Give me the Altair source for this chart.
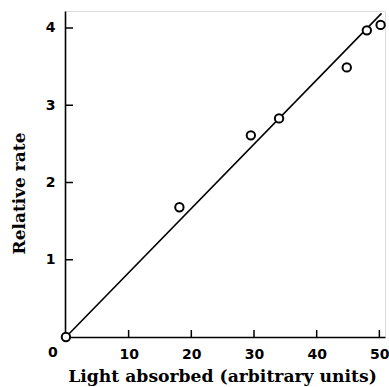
import altair as alt
import pandas as pd

# data
light = [0.0, 18.1, 29.5, 34.0, 44.8, 48.0, 50.2]
rate = [0.0, 1.68, 2.61, 2.83, 3.49, 3.97, 4.04]
fit_x = [0.0, 50.35]
fit_y = [0.0, 4.19]
x_ticks = [10, 20, 30, 40, 50]
y_ticks = [1, 2, 3, 4]

X_DOM = [-0.15, 50.9]
Y_DOM = [0, 4.22]

pts = pd.DataFrame({"x": light, "y": rate})
fit = pd.DataFrame({"x": fit_x, "y": fit_y})
xt = pd.DataFrame({"v": x_ticks})
yt = pd.DataFrame({"v": y_ticks})
zero = pd.DataFrame({"x": [0], "t": ["0"]})

LABEL_FONT = "DejaVu Sans"
TITLE_FONT = "DejaVu Serif"

xscale = alt.Scale(domain=X_DOM, nice=False, zero=False)
yscale = alt.Scale(domain=Y_DOM, nice=False, zero=False)

xaxis = alt.Axis(
    values=x_ticks, format="d", ticks=False, grid=False, domainColor="black", domainWidth=1.6,
    labelFont=LABEL_FONT, labelFontSize=14, labelFontWeight="bold", labelColor="black",
    labelPadding=10, title="Light absorbed (arbitrary units)", titleFont=TITLE_FONT,
    titleFontSize=17.2, titleFontWeight="bold", titleColor="black", titlePadding=6,
    titleX=157,
)
yaxis = alt.Axis(
    values=y_ticks, format="d", ticks=False, grid=False, domainColor="black", domainWidth=1.6,
    labelFont=LABEL_FONT, labelFontSize=14, labelFontWeight="bold", labelColor="black",
    labelPadding=10, title="Relative rate", titleFont=TITLE_FONT,
    titleFontSize=17, titleFontWeight="bold", titleColor="black",
    titleX=-46, titleY=182, titleBaseline="middle", titleAlign="center", titleAngle=270,
)

line = alt.Chart(fit).mark_line(color="black", strokeWidth=1.6).encode(
    x=alt.X("x:Q", scale=xscale, axis=xaxis),
    y=alt.Y("y:Q", scale=yscale, axis=yaxis),
)

points = alt.Chart(pts).mark_point(
    shape="circle", size=70, filled=True, fill="white", stroke="black", strokeWidth=2, opacity=1
).encode(x=alt.X("x:Q", scale=xscale), y=alt.Y("y:Q", scale=yscale))

xtick_marks = alt.Chart(xt).mark_rule(color="black", strokeWidth=1.5, y2Offset=-7).encode(
    x=alt.X("v:Q", scale=xscale), y=alt.datum(0, scale=yscale), y2=alt.datum(0)
)
ytick_marks = alt.Chart(yt).mark_rule(color="black", strokeWidth=1.5, x2Offset=8).encode(
    y=alt.Y("v:Q", scale=yscale), x=alt.datum(X_DOM[0]), x2=alt.datum(X_DOM[0])
)
zero_label = alt.Chart(zero).mark_text(
    font=LABEL_FONT, fontSize=14, fontWeight="bold", color="black", dx=-13, dy=16
).encode(x=alt.X("x:Q", scale=xscale), y=alt.datum(0), text="t:N")

chart = alt.layer(line, xtick_marks, ytick_marks, points, zero_label).properties(
    width=320, height=326,
    autosize=alt.AutoSizeParams(type="none"),
    padding={"left": 65, "top": 11, "right": 4, "bottom": 50},
).configure_view(stroke=None).configure(background="white")

chart.save("out.html", embed_options={"renderer": "svg", "actions": False})
